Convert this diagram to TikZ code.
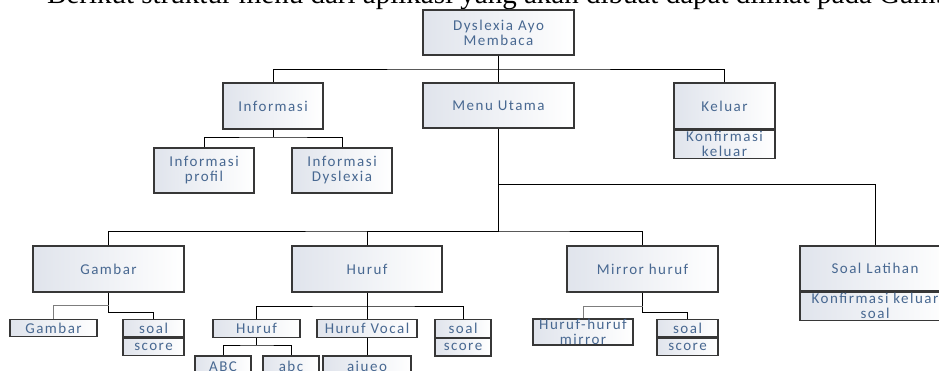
\documentclass[tikz,border=0pt]{standalone}
\usepackage{fontspec}
\newfontfamily\boxfont[LetterSpace=10]{Carlito}
\newfontfamily\titlefont{Liberation Serif}
\usetikzlibrary{positioning}

\definecolor{boxline}{RGB}{55,55,55}
\definecolor{boxfill}{RGB}{224,228,236}
\definecolor{boxtext}{RGB}{72,104,145}
\definecolor{branchgray}{RGB}{125,125,125}

\tikzset{
  menubox/.style={draw=boxline, line width=1.2pt, left color=boxfill, right color=white,
    text=boxtext, font={\boxfont\fontsize{15pt}{15pt}\selectfont}, align=center,
    inner sep=0pt, minimum height=46pt},
  smallbox/.style={menubox, minimum height=17.5pt},
  conn/.style={draw=black, line width=0.8pt},
  conngray/.style={draw=branchgray, line width=0.8pt}
}

\begin{document}
\begin{tikzpicture}[x=1pt,y=-1pt]
\useasboundingbox (0,0) rectangle (939,371);
\clip (0,0) rectangle (939,371);

% text line above the chart
\node[anchor=base west, inner sep=0pt, font={\titlefont\fontsize{29pt}{30pt}\selectfont}] (intro) at (47,4)
  {Berikut struktur menu dari aplikasi yang akan dibuat dapat dilihat pada Gambar};

% top levels
\node[menubox, minimum width=151pt, minimum height=45pt] (root) at (498.5,32.5) {Dyslexia Ayo\\Membaca};
\node[menubox, minimum width=100pt] (info) at (273,106) {Informasi};
\node[menubox, minimum width=151pt, minimum height=45pt] (menu) at (498.5,105.5) {Menu Utama};
\node[menubox, minimum width=101pt] (keluar) at (724.5,106) {Keluar};
\node[menubox, minimum width=101pt, minimum height=28pt, below=0pt of keluar] (keluarconf) {Konfirmasi\\keluar};

\node[menubox, minimum width=100pt, minimum height=45pt] (infoprof) at (204,170.5) {Informasi\\profil};
\node[menubox, minimum width=100pt, minimum height=45pt] (infodys) at (342,170.5) {Informasi\\Dyslexia};

% menu utama
\node[menubox, minimum width=151pt] (gambar) at (108.5,269) {Gambar};
\node[menubox, minimum width=150pt] (huruf) at (367,269) {Huruf};
\node[menubox, minimum width=151pt] (mirror) at (642.5,269) {Mirror huruf};
\node[menubox, minimum width=150pt, minimum height=45pt] (latihan) at (875,268.5) {Soal Latihan};
\node[menubox, minimum width=150pt, minimum height=28pt, below=0pt of latihan] (latihanconf) {Konfirmasi keluar\\soal};

% gambar
\node[smallbox, minimum width=87pt] (gbpic) at (53.5,328) {Gambar};
\node[smallbox, minimum width=61pt] (gbsoal) at (153.5,328) {soal};
\node[smallbox, minimum width=61pt, below=0pt of gbsoal] (gbscore) {score};

% huruf
\node[smallbox, minimum width=87pt] (hfletter) at (256.5,328.5) {Huruf};
\node[smallbox, minimum width=100pt] (hfvocal) at (367,328.5) {Huruf Vocal};
\node[smallbox, minimum width=56pt] (hfsoal) at (463,328.5) {soal};
\node[smallbox, minimum width=56pt, below=0pt of hfsoal] (hfscore) {score};
\node[smallbox, minimum width=56pt, minimum height=21pt] (abcup) at (223,366.5) {ABC};
\node[smallbox, minimum width=56pt, minimum height=21pt] (abclow) at (291,366.5) {abc};
\node[smallbox, minimum width=88pt, minimum height=21pt] (aiueo) at (367,366.5) {aiueo};

% mirror huruf
\node[smallbox, minimum width=100pt, minimum height=26pt] (mrpair) at (583,332) {Huruf-huruf\\mirror};
\node[smallbox, minimum width=61pt] (mrsoal) at (687.5,328) {soal};
\node[smallbox, minimum width=61pt, below=0pt of mrsoal] (mrscore) {score};

% connectors
\coordinate (topbus) at (498.5,69);
\coordinate (infobus) at (273,137);
\coordinate (latbus) at (498.5,184);
\coordinate (mainbus) at (498.5,231);
\coordinate (gbbusl) at (108.5,305);
\coordinate (gbbusr) at (108.5,312);
\coordinate (hfbus) at (367,306);
\coordinate (hlbus) at (256.5,345);
\coordinate (mrbusl) at (642.5,306);
\coordinate (mrbusr) at (642.5,312);

\draw[conn] (root.south) -- (topbus);
\draw[conn] (info.north) |- (topbus) -| (keluar.north);
\draw[conn] (topbus) -- (menu.north);

\draw[conn] (info.south) -- (infobus);
\draw[conn] (infoprof.north) |- (infobus) -| (infodys.north);

\draw[conn, line width=1.5pt] (menu.south) -- (mainbus);
\draw[conn] (latbus) -| (latihan.north);
\draw[conn] (gambar.north) |- (mainbus) -| (mirror.north);
\draw[conn] (huruf.north) |- (mainbus);

\draw[conn] (gambar.south) -- (gbbusr) -| (gbsoal.north);
\draw[conngray] (gbbusl) -| (gbpic.north);

\draw[conn] (huruf.south) -- (hfbus);
\draw[conn] (hfletter.north) |- (hfbus) -| (hfsoal.north);
\draw[conn] (hfbus) -- (hfvocal.north);
\draw[conn] (hfletter.south) -- (hlbus);
\draw[conn] (abcup.north) |- (hlbus) -| (abclow.north);
\draw[conn] (hfvocal.south) -- (aiueo.north);

\draw[conn] (mirror.south) -- (mrbusr) -| (mrsoal.north);
\draw[conngray] (mrbusl) -| (mrpair.north);
\end{tikzpicture}
\end{document}
